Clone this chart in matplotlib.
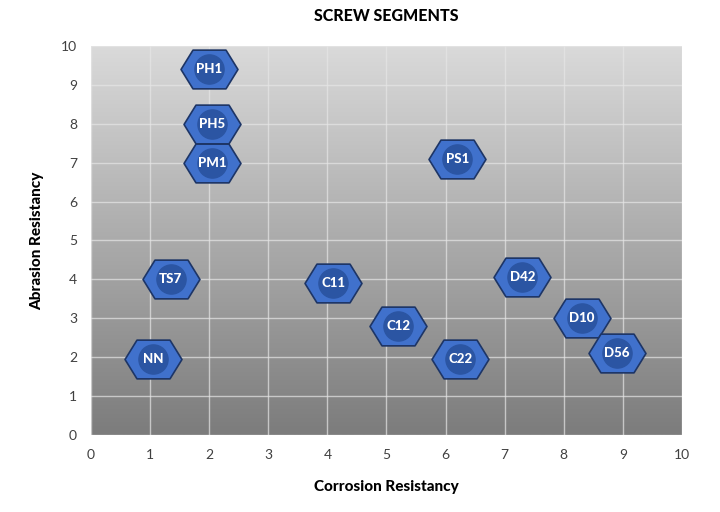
import numpy as np
import matplotlib
matplotlib.use("Agg")
import matplotlib.pyplot as plt
from matplotlib.path import Path
from matplotlib.colors import LinearSegmentedColormap

plt.rcParams['font.family'] = ['Lato', 'DejaVu Sans']

labels = ["PH1", "PH5", "PM1", "PS1", "TS7", "C11", "D42", "C12", "D10", "NN", "C22", "D56"]
corrosion = [2.0, 2.05, 2.05, 6.2, 1.35, 4.1, 7.3, 5.2, 8.3, 1.05, 6.25, 8.9]
abrasion = [9.4, 8.0, 7.0, 7.1, 4.0, 3.9, 4.05, 2.8, 3.0, 1.95, 1.95, 2.1]

fig = plt.figure(figsize=(7.2, 5.12), dpi=100)
ax = fig.add_axes([0.1264, 0.1504, 0.8208, 0.7598])

# gradient background of the plot area
grad = np.linspace(0, 1, 256).reshape(-1, 1)
bg = LinearSegmentedColormap.from_list("bg", ["#dadada", "#7c7c7c"])
ax.imshow(grad, extent=[0, 10, 0, 10], aspect='auto', cmap=bg, origin='upper', zorder=0)

ax.set_xlim(0, 10)
ax.set_ylim(0, 10)
ax.set_xticks(range(0, 11))
ax.set_yticks(range(0, 11))
ax.grid(True, color="#e6e6e6", linewidth=1.0, alpha=0.7, zorder=1)
for s in ax.spines.values():
    s.set_visible(False)
ax.tick_params(length=0, labelsize=10, colors="#404040", pad=10)

# hexagon marker, wider than tall
hexv = [(-1, 0), (-0.58, 0.68), (0.58, 0.68), (1, 0), (0.58, -0.68), (-0.58, -0.68), (-1, 0)]
hexm = Path(hexv, [Path.MOVETO] + [Path.LINETO] * 5 + [Path.CLOSEPOLY])

ax.plot(corrosion, abrasion, linestyle='none', marker=hexm, markersize=41,
        markerfacecolor="#4071cc", markeredgecolor="#1d3566", markeredgewidth=1.2, zorder=3)
ax.plot(corrosion, abrasion, linestyle='none', marker='o', markersize=21,
        markerfacecolor="#2b55a3", markeredgecolor="#2b55a3", zorder=4)
for x, y, t in zip(corrosion, abrasion, labels):
    ax.text(x, y, t, color="white", fontsize=9.5, fontweight=900, ha="center", va="center", zorder=5)

ax.set_title("SCREW SEGMENTS", fontsize=11.5, fontweight=900, pad=18)
ax.set_xlabel("Corrosion Resistancy", fontsize=11, fontweight=900, labelpad=14)
ax.set_ylabel("Abrasion Resistancy", fontsize=11, fontweight=900, labelpad=12)

fig.savefig("out.png", dpi=100)
